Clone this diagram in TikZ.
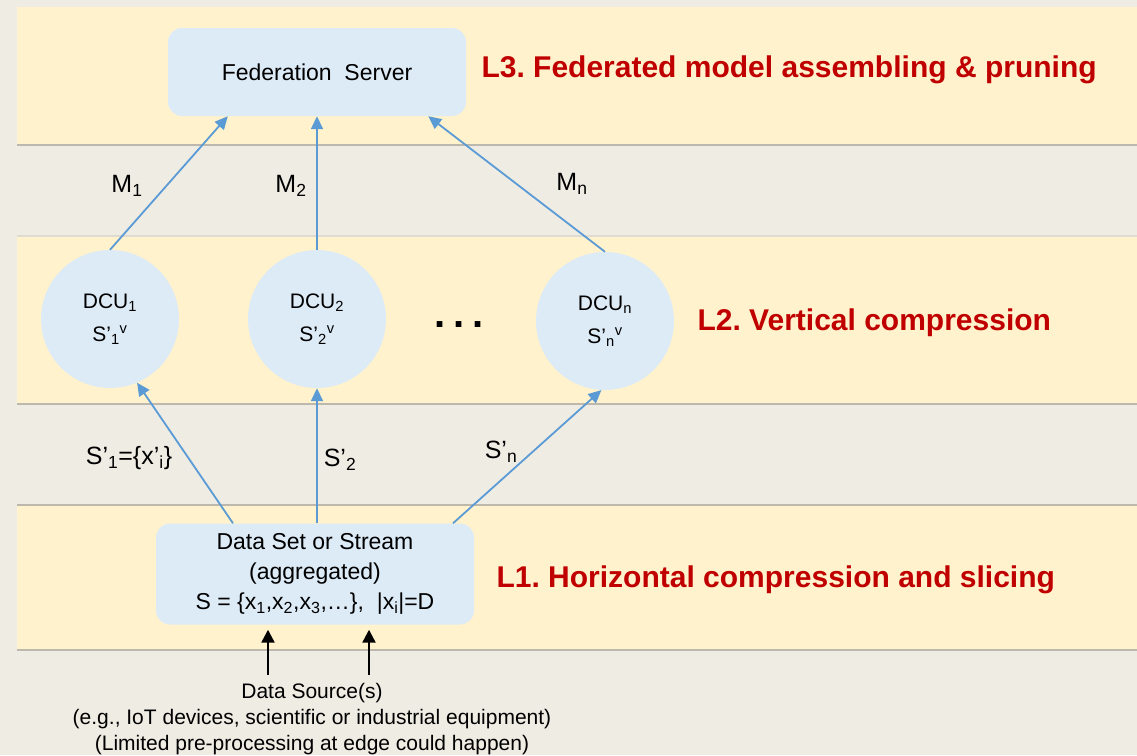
\documentclass[tikz,border=0pt]{standalone}
\usepackage{fontspec}
\setmainfont{Liberation Sans}
\usetikzlibrary{arrows.meta,calc}
\definecolor{bgray}{HTML}{EFECE4}
\definecolor{byellow}{HTML}{FFF2CC}
\definecolor{bline}{HTML}{BDB8AE}
\definecolor{blineL}{HTML}{DEDBD2}
\definecolor{bluefill}{HTML}{DDEBF7}
\definecolor{bluearrow}{HTML}{5B9BD5}
\definecolor{redtext}{HTML}{C00000}
\frenchspacing
\begin{document}
\begin{tikzpicture}[x=1pt,y=-1pt,
  band/.style={fill=byellow,draw=none},
  sep/.style={draw=bline,line width=1.2pt},
  boxnode/.style={fill=bluefill,rounded corners=14pt,align=center,inner sep=0pt},
  dcu/.style={circle,fill=bluefill,minimum size=138pt,inner sep=0pt,align=center,font=\fontsize{21}{33}\selectfont},
  blarrow/.style={draw=bluearrow,line width=1.8pt,-{Triangle[length=13pt,width=12pt]}},
  bkarrow/.style={draw=black,line width=2.4pt,-{Triangle[length=13pt,width=13pt]}},
  lay/.style={anchor=west,text=redtext,font=\fontsize{30}{36}\selectfont\bfseries},
  lbl/.style={font=\fontsize{25}{30}\selectfont},
  srctext/.style={align=center,font=\fontsize{21}{26}\selectfont},
]
\fill[bgray] (0,0) rectangle (1137,755);
\useasboundingbox (0,0) rectangle (1137,755);
% bands
\fill[band] (17,7) rectangle (1137,145);
\fill[band] (17,236) rectangle (1137,404);
\fill[band] (17,505) rectangle (1137,650);
\draw[sep] (17,145) -- (1137,145);
\draw[draw=blineL,line width=1.2pt] (17,236) -- (1137,236);
\draw[sep] (17,404) -- (1137,404);
\draw[sep] (17,505) -- (1137,505);
\draw[sep] (17,650) -- (1137,650);

% nodes
\node[boxnode,minimum width=298pt,minimum height=88pt,font=\fontsize{23}{28}\selectfont] (fed) at (317,72) {Federation\ \ Server};
\node[dcu] (d1) at (110,319) {DCU\textsubscript{1}\\S’\textsubscript{1}\textsuperscript{v}};
\node[dcu] (d2) at (317,319) {DCU\textsubscript{2}\\S’\textsubscript{2}\textsuperscript{v}};
\node[dcu] (dn) at (605,321) {DCU\textsubscript{n}\\S’\textsubscript{n}\textsuperscript{v}};
\node[anchor=base,font=\fontsize{40}{40}\selectfont\bfseries] (dots) at (459,327) {.\hspace{8pt}.\hspace{8pt}.};
\node[boxnode,minimum width=318pt,minimum height=101pt,font=\fontsize{23}{30}\selectfont] (data) at (315,574)
  {Data Set or Stream\\(aggregated)\\S = \{x\textsubscript{1},x\textsubscript{2},x\textsubscript{3},…\},\ \ |x\textsubscript{i}|=D};

% layer labels
\node[lay] (l3) at (478,70) {L3. Federated model assembling \& pruning};
\node[lay] (l2) at (694,323) {L2. Vertical compression};
\node[lay] (l1) at (493,580) {L1. Horizontal compression and slicing};

% arrows up to server
\draw[blarrow] (d1.north) -- ([xshift=60pt]fed.south west);
\draw[blarrow] (d2.north) -- (d2.north |- fed.south);
\draw[blarrow] (dn.north) -- ([xshift=-38pt]fed.south east);
\node[lbl] (m1) at (127,186) {M\textsubscript{1}};
\node[lbl] (m2) at (291,186) {M\textsubscript{2}};
\node[lbl] (mn) at (572,184) {M\textsubscript{n}};

% arrows up to DCUs
\draw[blarrow] ([xshift=-82pt]data.north) -- (d1.-67);
\draw[blarrow] (d2.south |- data.north) -- (d2.south);
\draw[blarrow] ([xshift=138pt]data.north) -- (dn.-93);
\node[lbl] (s1l) at (129,458) {S’\textsubscript{1}=\{x’\textsubscript{i}\}};
\node[lbl] (s2l) at (340,460) {S’\textsubscript{2}};
\node[lbl] (snl) at (501,452) {S’\textsubscript{n}};

% data sources
\coordinate (src1) at (268,675);
\coordinate (src2) at (369,675);
\draw[bkarrow] (src1) -- ($(src1 |- data.south)+(0,5)$);
\draw[bkarrow] (src2) -- ($(src2 |- data.south)+(0,5)$);
\node[srctext] (src) at (312,719) {Data Source(s)\\(e.g., IoT devices, scientific or industrial equipment)\\(Limited pre-processing at edge could happen)};
\end{tikzpicture}
\end{document}
